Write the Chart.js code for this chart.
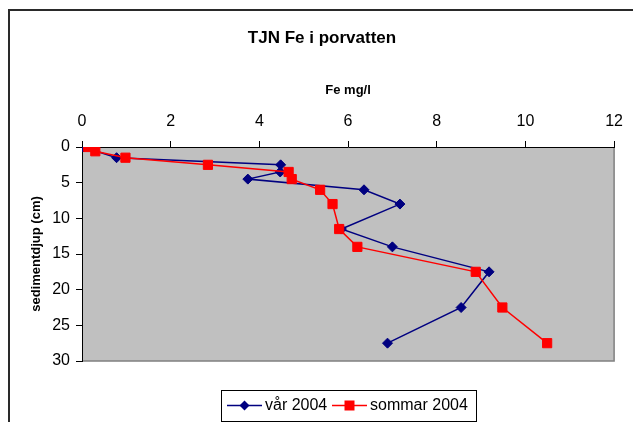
<!DOCTYPE html>
<html>
<head>
<meta charset="utf-8">
<script src="https://cdn.jsdelivr.net/npm/chart.js@4/dist/chart.umd.min.js"></script>
<style>
  html, body { margin: 0; padding: 0; background: #ffffff; }
  canvas { display: block; }
</style>
</head>
<body>
<canvas id="c" width="633" height="422"></canvas>
<script>
// Iron in pore water, by sediment depth
const chartTitle = 'TJN Fe i porvatten';
const xTitle = 'Fe mg/l';
const yTitle = 'sedimentdjup (cm)';

const varLabel = 'vår 2004';
const varDepth = [0, 1.5, 2.5, 3.5, 4.5, 6, 8, 11.5, 14, 17.5, 22.5, 27.5];
const varFe    = [0.03, 0.78, 4.48, 4.47, 3.74, 6.36, 7.17, 5.85, 7.0, 9.18, 8.55, 6.89];

const sommarLabel = 'sommar 2004';
const sommarDepth = [0, 0.6, 1.5, 2.5, 3.5, 4.5, 6, 8, 11.5, 14, 17.5, 22.5, 27.5];
const sommarFe    = [0.14, 0.3, 0.98, 2.84, 4.66, 4.73, 5.37, 5.65, 5.8, 6.21, 8.88, 9.48, 10.49];

const xMin = 0, xMax = 12, xStep = 2;
const yMin = 0, yMax = 30, yStep = 5;

const FONT = '"Liberation Sans", Arial, sans-serif';

function toPoints(xs, ys) {
  return xs.map((v, i) => ({ x: v, y: ys[i] }));
}

// Frame, grey plot area, heading and boxed legend
const decor = {
  id: 'decor',
  beforeDraw(chart) {
    const { ctx, chartArea: a } = chart;
    ctx.save();
    ctx.fillStyle = '#ffffff';
    ctx.fillRect(0, 0, chart.width, chart.height);
    ctx.strokeStyle = '#2a2a2a';
    ctx.lineWidth = 2;
    ctx.beginPath();
    ctx.moveTo(9, chart.height + 2);
    ctx.lineTo(9, 10);
    ctx.lineTo(chart.width + 2, 10);
    ctx.stroke();
    ctx.fillStyle = '#c0c0c0';
    ctx.fillRect(a.left, a.top, a.right - a.left, a.bottom - a.top);
    ctx.strokeStyle = '#808080';
    ctx.lineWidth = 1.5;
    ctx.beginPath();
    ctx.moveTo(a.left, a.bottom);
    ctx.lineTo(a.right, a.bottom);
    ctx.lineTo(a.right, a.top);
    ctx.stroke();
    ctx.restore();
  },
  afterDraw(chart) {
    const { ctx } = chart;
    ctx.save();
    ctx.fillStyle = '#000000';
    ctx.font = 'bold 17px ' + FONT;
    ctx.textAlign = 'center';
    ctx.textBaseline = 'middle';
    ctx.fillText(chartTitle, 322, 38);

    // legend box
    ctx.strokeStyle = '#000000';
    ctx.lineWidth = 1;
    ctx.strokeRect(221.5, 390.5, 255, 31);
    const items = [
      { ds: chart.data.datasets[0], x: 227 },
      { ds: chart.data.datasets[1], x: 332 }
    ];
    const cy = 405.5;
    items.forEach(it => {
      const ds = it.ds;
      ctx.strokeStyle = ds.borderColor;
      ctx.lineWidth = 1.5;
      ctx.beginPath();
      ctx.moveTo(it.x, cy);
      ctx.lineTo(it.x + 35, cy);
      ctx.stroke();
      const mx = it.x + 17.5;
      ctx.fillStyle = ds.pointBackgroundColor;
      ctx.beginPath();
      if (ds.pointStyle === 'rectRot') {
        ctx.moveTo(mx - 5, cy);
        ctx.lineTo(mx, cy - 5);
        ctx.lineTo(mx + 5, cy);
        ctx.lineTo(mx, cy + 5);
        ctx.closePath();
      } else {
        ctx.rect(mx - 5, cy - 5, 10, 10);
      }
      ctx.fill();
      ctx.fillStyle = '#000000';
      ctx.font = '16px ' + FONT;
      ctx.textAlign = 'left';
      ctx.textBaseline = 'middle';
      ctx.fillText(ds.label, it.x + 38, cy);
    });
    ctx.restore();
  }
};

new Chart(document.getElementById('c'), {
  type: 'scatter',
  data: {
    datasets: [
      {
        label: varLabel,
        data: toPoints(varFe, varDepth),
        showLine: true,
        borderColor: '#000080',
        backgroundColor: '#000080',
        pointBackgroundColor: '#000080',
        pointBorderColor: '#000080',
        borderWidth: 1.5,
        pointStyle: 'rectRot',
        pointRadius: 5,
        pointBorderWidth: 1,
        order: 1
      },
      {
        label: sommarLabel,
        data: toPoints(sommarFe, sommarDepth),
        showLine: true,
        borderColor: '#ff0000',
        backgroundColor: '#ff0000',
        pointBackgroundColor: '#ff0000',
        pointBorderColor: '#ff0000',
        borderWidth: 1.5,
        pointStyle: 'rect',
        pointRadius: 6.5,
        pointBorderWidth: 1,
        order: 0
      }
    ]
  },
  options: {
    responsive: false,
    animation: false,
    layout: { padding: { left: 0, top: 0, right: 16, bottom: 61 } },
    plugins: {
      legend: { display: false },
      title: { display: false },
      tooltip: { enabled: false }
    },
    scales: {
      x: {
        type: 'linear',
        position: 'top',
        min: xMin,
        max: xMax,
        ticks: {
          stepSize: xStep,
          color: '#000000',
          padding: 10,
          font: { family: FONT, size: 16 }
        },
        grid: {
          drawOnChartArea: false,
          drawTicks: true,
          tickLength: 6,
          color: '#000000'
        },
        border: { display: true, color: '#000000', width: 1 },
        title: {
          display: true,
          text: xTitle,
          color: '#000000',
          font: { family: FONT, size: 13, weight: 'bold' },
          padding: { top: 83, bottom: 0 }
        },
        afterFit(scale) { scale.height = 147; }
      },
      y: {
        type: 'linear',
        position: 'left',
        reverse: true,
        min: yMin,
        max: yMax,
        ticks: {
          stepSize: yStep,
          color: '#000000',
          padding: 6,
          font: { family: FONT, size: 16 }
        },
        grid: {
          drawOnChartArea: false,
          drawTicks: true,
          tickLength: 6,
          color: '#000000'
        },
        border: { display: true, color: '#000000', width: 1 },
        title: {
          display: true,
          text: yTitle,
          color: '#000000',
          font: { family: FONT, size: 13, weight: 'bold' },
          padding: { top: 29, bottom: 0 }
        },
        afterFit(scale) { scale.width = 82; }
      }
    }
  },
  plugins: [decor]
});
</script>
</body>
</html>
